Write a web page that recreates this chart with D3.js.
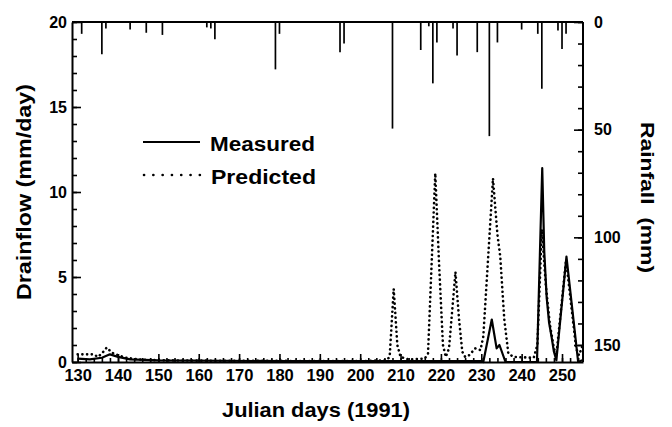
<!DOCTYPE html>
<html>
<head>
<meta charset="utf-8">
<script src="https://cdn.jsdelivr.net/npm/d3@7"></script>
<style>
  body { margin: 0; background: #fff; }
  svg { font-family: "Liberation Sans", Arial, sans-serif; }
</style>
</head>
<body>
<svg id="chart"></svg>
<script>
// rainfall events: julian day, depth (mm)
const rainDays = [131, 136, 137, 143, 147, 151, 162, 163, 164, 179, 180, 195, 196,
  208, 215, 217, 218, 219, 223, 224, 229, 232, 234, 240, 244, 245, 249, 250, 251];
const rainMm = [5.5, 15, 3, 3.5, 5, 6, 2.5, 3, 8, 22, 5.5, 14, 10,
  49.5, 13, 2, 28.5, 9.5, 3, 15.5, 14, 53, 9.5, 3.5, 5.5, 31, 4, 12.5, 5.5];

// measured drainflow (mm/day)
const measDays = [130, 133, 136, 138, 140, 143, 150, 180, 230, 230.5, 232.6, 233.8, 234.5, 236,
  243.8, 245.1, 245.6, 246.2, 246.8, 247.4, 248, 248.6, 251.1, 254, 255];
const measVals = [0.2, 0.15, 0.25, 0.45, 0.3, 0.15, 0.1, 0.05, 0.05, 0, 2.5, 0.8, 1.0, 0,
  0, 11.4, 6.5, 3.8, 2.3, 1.5, 0.6, 0.1, 6.2, 0, 0.1];

// predicted drainflow (mm/day)
const predDays = [130, 132, 134, 135, 136, 137.2, 138.5, 140, 142, 145, 150, 160, 200, 206.5,
  207.3, 208.3, 209.2, 210, 212, 216, 216.8, 218.6, 219.5, 220.5, 221.2, 222, 223.6, 224.5,
  225.3, 226, 227, 228.5, 229.8, 230.5, 232.9, 234, 234.7, 235.7, 236.7, 238, 243, 243.9,
  245, 246, 247, 248, 248.6, 251, 253.5, 254.2, 255];
const predVals = [0.45, 0.45, 0.45, 0.3, 0.5, 0.85, 0.55, 0.4, 0.25, 0.15, 0.1, 0.08, 0.05, 0.1,
  0.3, 4.3, 1.0, 0.3, 0.15, 0.2, 0.5, 11.1, 6, 1.0, 0.3, 0.8, 5.3, 2.5,
  0.6, 0.3, 0.4, 0.8, 0.7, 1.5, 10.8, 7.5, 6.2, 2.5, 0.5, 0.3, 0.25, 1,
  7.8, 4.5, 2.2, 0.8, 0.4, 6, 0.8, 0.4, 0.9];

const drainTicks = [0, 5, 10, 15, 20];
const rainTicks = [0, 50, 100, 150];
const dayTicks = d3.range(130, 251, 10);

const width = 672, height = 427;
const plotL = 72, plotR = 583, plotT = 22, plotB = 362;

const svg = d3.select("#chart")
  .attr("width", width)
  .attr("height", height)
  .attr("viewBox", `0 0 ${width} ${height}`);

const x = d3.scaleLinear().domain([128.6, 255.2]).range([plotL, plotR]);
const y = d3.scaleLinear().domain([0, 20]).range([plotB, plotT]);
const yRain = d3.scaleLinear().domain([0, 150]).range([plotT, 345]);

const ink = "#000";

// frame top line
svg.append("line")
  .attr("x1", plotL).attr("x2", plotR)
  .attr("y1", plotT).attr("y2", plotT)
  .attr("stroke", ink).attr("stroke-width", 2);

// rain bars hanging from the top
svg.append("g")
  .selectAll("line")
  .data(rainDays.map((d, i) => [d, rainMm[i]]))
  .join("line")
  .attr("x1", d => x(d[0])).attr("x2", d => x(d[0]))
  .attr("y1", plotT).attr("y2", d => yRain(d[1]))
  .attr("stroke", ink).attr("stroke-width", 1.7);

function styleAxis(g, size) {
  g.selectAll("path").attr("stroke", ink).attr("stroke-width", 2);
  g.selectAll(".tick line").attr("stroke", ink).attr("stroke-width", 1.6);
  g.selectAll("text")
    .attr("fill", ink)
    .attr("font-size", size)
    .attr("font-weight", "bold");
}

// left axis
svg.append("g")
  .attr("transform", `translate(${plotL},0)`)
  .call(d3.axisLeft(y).tickValues(d3.range(0, 21, 1)).tickSize(-5).tickFormat(""))
  .call(g => g.select("path").remove())
  .call(g => styleAxis(g, 16));
svg.append("g")
  .attr("transform", `translate(${plotL},0)`)
  .call(d3.axisLeft(y).tickValues(drainTicks).tickSizeInner(-9).tickSizeOuter(0).tickPadding(5))
  .call(g => styleAxis(g, 16));

// bottom axis
svg.append("g")
  .attr("transform", `translate(0,${plotB})`)
  .call(d3.axisBottom(x).tickValues(d3.range(130, 255, 2)).tickSize(-4).tickFormat(""))
  .call(g => g.select("path").remove())
  .call(g => styleAxis(g, 16));
svg.append("g")
  .attr("transform", `translate(0,${plotB})`)
  .call(d3.axisBottom(x).tickValues(dayTicks).tickSizeInner(-8).tickSizeOuter(0).tickPadding(7))
  .call(g => styleAxis(g, 16.5));

// right axis
svg.append("g")
  .attr("transform", `translate(${plotR},0)`)
  .call(d3.axisRight(yRain).tickValues(d3.range(0, 151, 10)).tickSize(-5).tickFormat(""))
  .call(g => g.select("path").remove())
  .call(g => styleAxis(g, 16));
svg.append("g")
  .attr("transform", `translate(${plotR},0)`)
  .call(d3.axisRight(yRain).tickValues(rainTicks).tickSizeInner(-9).tickSizeOuter(0).tickPadding(11))
  .call(g => g.select("path").attr("d", `M0,${plotT}V${plotB}`))
  .call(g => styleAxis(g, 16));

// drainflow lines
const line = d3.line().x(d => x(d[0])).y(d => y(d[1]));

svg.append("path")
  .datum(predDays.map((d, i) => [d, predVals[i]]))
  .attr("d", line)
  .attr("fill", "none")
  .attr("stroke", ink)
  .attr("stroke-width", 2.6)
  .attr("stroke-linecap", "round")
  .attr("stroke-dasharray", "0.1 4.6");

svg.append("path")
  .datum(measDays.map((d, i) => [d, measVals[i]]))
  .attr("d", line)
  .attr("fill", "none")
  .attr("stroke", ink)
  .attr("stroke-width", 2.2)
  .attr("stroke-linejoin", "round");

// axis titles (scanned type is wide, so stretch to the measured length)
svg.append("text")
  .attr("x", 222).attr("y", 417)
  .attr("font-size", 21).attr("font-weight", "bold")
  .attr("textLength", 188).attr("lengthAdjust", "spacingAndGlyphs")
  .text("Julian days (1991)");

svg.append("text")
  .attr("transform", `translate(31,300) rotate(-90)`)
  .attr("font-size", 21).attr("font-weight", "bold")
  .attr("textLength", 216).attr("lengthAdjust", "spacingAndGlyphs")
  .text("Drainflow (mm/day)");

svg.append("text")
  .attr("transform", `translate(641,122) rotate(90)`)
  .attr("font-size", 19).attr("font-weight", "bold")
  .attr("xml:space", "preserve")
  .attr("textLength", 151).attr("lengthAdjust", "spacingAndGlyphs")
  .text("Rainfall  (mm)");

// legend
const legend = svg.append("g").attr("transform", "translate(143,0)");
legend.append("line")
  .attr("x1", 0).attr("x2", 57).attr("y1", 142).attr("y2", 142)
  .attr("stroke", ink).attr("stroke-width", 2.2);
legend.append("line")
  .attr("x1", 1).attr("x2", 57).attr("y1", 175).attr("y2", 175)
  .attr("stroke", ink).attr("stroke-width", 2.6)
  .attr("stroke-linecap", "round").attr("stroke-dasharray", "0.1 9.2");
legend.append("text")
  .attr("x", 67).attr("y", 151)
  .attr("font-size", 20).attr("font-weight", "bold")
  .attr("textLength", 105).attr("lengthAdjust", "spacingAndGlyphs")
  .text("Measured");
legend.append("text")
  .attr("x", 68).attr("y", 184)
  .attr("font-size", 20).attr("font-weight", "bold")
  .attr("textLength", 105).attr("lengthAdjust", "spacingAndGlyphs")
  .text("Predicted");
</script>
</body>
</html>
